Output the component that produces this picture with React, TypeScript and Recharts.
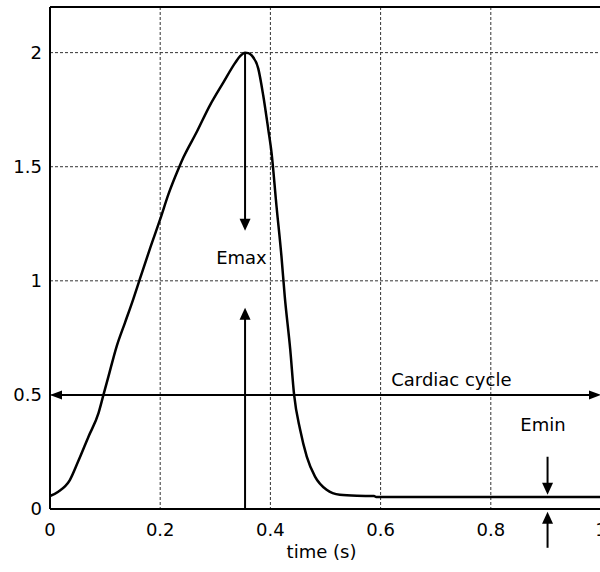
import React from 'react';
import { LineChart, Line, XAxis, YAxis, CartesianGrid, ReferenceLine, ReferenceDot } from 'recharts';

const timeS = [0, 0.015, 0.036, 0.051, 0.07, 0.088, 0.097, 0.106, 0.121, 0.136, 0.151, 0.163, 0.181, 0.2, 0.215, 0.233, 0.242, 0.266, 0.29, 0.315, 0.336, 0.345, 0.354, 0.36, 0.366, 0.378, 0.387, 0.396, 0.402, 0.411, 0.42, 0.426, 0.436, 0.443, 0.454, 0.466, 0.481, 0.502, 0.526, 0.557, 0.588, 0.592, 0.7, 0.8, 0.9, 1.0];
const elastance = [0.057, 0.076, 0.127, 0.208, 0.318, 0.42, 0.5, 0.58, 0.713, 0.816, 0.919, 1.007, 1.138, 1.27, 1.38, 1.49, 1.54, 1.651, 1.768, 1.871, 1.955, 1.985, 2.0, 1.998, 1.988, 1.93, 1.812, 1.666, 1.563, 1.329, 1.109, 0.933, 0.699, 0.501, 0.347, 0.23, 0.142, 0.084, 0.062, 0.058, 0.057, 0.053, 0.053, 0.053, 0.053, 0.053];

const xTicks = [0, 0.2, 0.4, 0.6, 0.8, 1];
const xTickLabels = ['0', '0.2', '0.4', '0.6', '0.8', '1'];
const yTicks = [0, 0.5, 1, 1.5, 2];
const yTickLabels = ['0', '0.5', '1', '1.5', '2'];

const arrows = [
  { id: 'emax-down', x1: 0.354, y1: 2.0, x2: 0.354, y2: 1.219, both: false, half: 5.5 },
  { id: 'emax-up', x1: 0.354, y1: 0, x2: 0.354, y2: 0.882, both: false, half: 5.5 },
  { id: 'cycle', x1: 0, y1: 0.5, x2: 1, y2: 0.5, both: true, half: 4.5 },
  { id: 'emin-down', x1: 0.903, y1: 0.229, x2: 0.903, y2: 0.062, both: false, half: 5.5 },
  { id: 'emin-up', x1: 0.903, y1: -0.17, x2: 0.903, y2: -0.012, both: false, half: 5.5 },
];

const labels = [
  { text: 'Emax', x: 0.3475, y: 1.0725 },
  { text: 'Cardiac cycle', x: 0.7284, y: 0.5376 },
  { text: 'Emin', x: 0.8947, y: 0.34 },
];

const data = timeS.map((t, i) => ({ t, e: elastance[i] }));

const FONT = 'DejaVu Sans';

function arrowShape(both: boolean, half: number) {
  const len = 12;
  return (p: any) => {
    const { x1, y1, x2, y2 } = p;
    const dx = x2 - x1;
    const dy = y2 - y1;
    const L = Math.hypot(dx, dy) || 1;
    const ux = dx / L;
    const uy = dy / L;
    const nx = -uy;
    const ny = ux;
    const head = (tx: number, ty: number, ddx: number, ddy: number) =>
      `${tx},${ty} ${tx - ddx * len + nx * half},${ty - ddy * len + ny * half} ${tx - ddx * len - nx * half},${ty - ddy * len - ny * half}`;
    const sx = both ? x1 + ux * (len - 2) : x1;
    const sy = both ? y1 + uy * (len - 2) : y1;
    const ex = x2 - ux * (len - 2);
    const ey = y2 - uy * (len - 2);
    return (
      <g>
        <line x1={sx} y1={sy} x2={ex} y2={ey} stroke="#000" strokeWidth={2} />
        <polygon points={head(x2, y2, ux, uy)} fill="#000" />
        {both && <polygon points={head(x1, y1, -ux, -uy)} fill="#000" />}
      </g>
    );
  };
}

function textShape(text: string) {
  return (p: any) => (
    <text x={p.cx} y={p.cy} textAnchor="middle" fontSize={18} fontFamily={FONT} fill="#000">
      {text}
    </text>
  );
}

export default function App() {
  return (
    <div style={{ position: 'absolute', left: 0, top: 0, width: 600, height: 572, overflow: 'hidden', background: '#fff' }}>
      <LineChart width={620} height={572} data={data} margin={{ top: 7, right: 19, bottom: 0, left: 0 }}>
        <CartesianGrid stroke="#333" strokeDasharray="3 2" strokeWidth={1} />
        <XAxis
          dataKey="t"
          type="number"
          domain={[0, 1]}
          ticks={xTicks}
          tickFormatter={(v: number) => xTickLabels[xTicks.indexOf(v)] ?? String(v)}
          height={63}
          tickLine={false}
          tickMargin={8}
          axisLine={{ stroke: '#000', strokeWidth: 2 }}
          tick={{ fill: '#000', fontSize: 18, fontFamily: FONT }}
          label={{ value: 'time (s)', position: 'insideBottom', offset: 14, dx: -4, fill: '#000', fontSize: 18, fontFamily: FONT }}
        />
        <YAxis
          type="number"
          domain={[0, 2.2]}
          ticks={yTicks}
          tickFormatter={(v: number) => yTickLabels[yTicks.indexOf(v)] ?? String(v)}
          width={50}
          tickLine={false}
          axisLine={{ stroke: '#000', strokeWidth: 2 }}
          tick={{ fill: '#000', fontSize: 18, fontFamily: FONT }}
          allowDataOverflow
        />
        <ReferenceLine y={2.2} stroke="#000" strokeWidth={2} />
        <ReferenceLine x={1} stroke="#000" strokeWidth={2} />
        <Line
          type="monotone"
          dataKey="e"
          stroke="#000"
          strokeWidth={2.5}
          dot={false}
          activeDot={false}
          isAnimationActive={false}
        />
        {arrows.map((a) => (
          <ReferenceLine
            key={a.id}
            segment={[{ x: a.x1, y: a.y1 }, { x: a.x2, y: a.y2 }]}
            ifOverflow="visible"
            shape={arrowShape(a.both, a.half)}
          />
        ))}
        {labels.map((l) => (
          <ReferenceDot key={l.text} x={l.x} y={l.y} r={0} ifOverflow="visible" shape={textShape(l.text)} />
        ))}
      </LineChart>
    </div>
  );
}
